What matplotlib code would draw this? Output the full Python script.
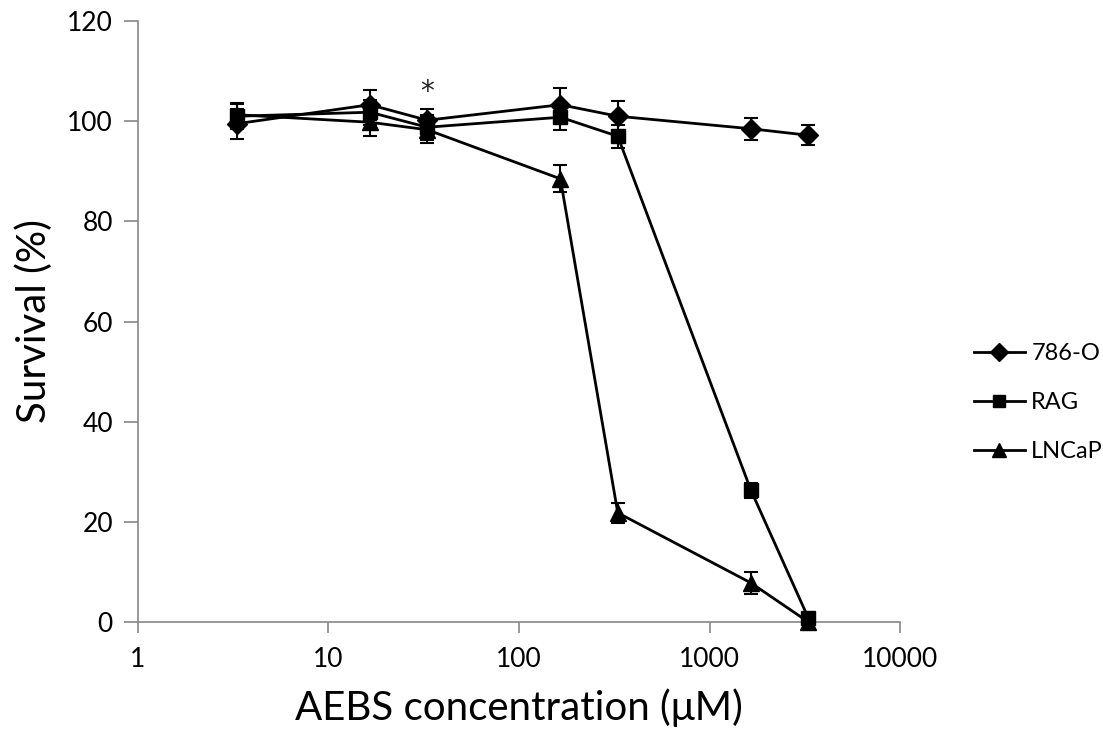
import numpy as np
import matplotlib.pyplot as plt
from matplotlib.lines import Line2D

plt.rcParams['font.family'] = ['Lato', 'DejaVu Sans']

conc = [3.3, 16.5, 33, 165, 330, 1650, 3300]

o786 = [99.5, 103.3, 100.2, 103.3, 101.0, 98.5, 97.2]
o786_err = [3.0, 3.0, 2.2, 3.3, 3.0, 2.2, 2.0]

rag = [101.0, 101.8, 98.8, 100.8, 97.0, 26.3, 0.8]
rag_err = [2.5, 2.5, 2.5, 2.5, 2.3, 1.5, 0.5]

lncap = [101.3, 99.8, 98.3, 88.5, 21.8, 7.8, 0.0]
lncap_err = [2.3, 2.8, 2.6, 2.7, 2.0, 2.2, 0.5]

series = [("786-O", o786, o786_err, "D", 10.5),
          ("RAG", rag, rag_err, "s", 9.5),
          ("LNCaP", lncap, lncap_err, "^", 11.5)]

fig = plt.figure(figsize=(11.03, 7.4), dpi=100)
ax = fig.add_axes([0.125, 0.1595, 0.691, 0.812])

handles = []
for name, vals, err, mk, ms in series:
    ax.errorbar(conc, vals, yerr=err, color='black', marker=mk, markersize=ms,
                linewidth=2.0, elinewidth=1.5, capsize=5, capthick=1.5,
                clip_on=False, zorder=3)
    handles.append(Line2D([], [], color='black', marker=mk, markersize=ms * 0.9,
                          linewidth=2.0, label=name))

# significance mark
ax.text(33, 103, "*", ha='center', va='bottom', fontsize=20, color='#222222',
        family='DejaVu Sans')

ax.set_xscale('log')
ax.set_xlim(1, 10000)
ax.set_ylim(0, 120)
ax.set_yticks(range(0, 121, 20))
ax.set_xticks([1, 10, 100, 1000, 10000])
ax.set_xticklabels(['1', '10', '100', '1000', '10000'])
ax.xaxis.set_minor_locator(plt.NullLocator())

for s in ['top', 'right']:
    ax.spines[s].set_visible(False)
for s in ['left', 'bottom']:
    ax.spines[s].set_color('#888888')
    ax.spines[s].set_linewidth(1.2)
ax.tick_params(axis='both', colors='#888888', labelcolor='black', labelsize=19, width=1.2)
ax.tick_params(axis='y', length=10, pad=8)
ax.tick_params(axis='x', length=8, pad=10)

ax.set_xlabel("AEBS concentration (μM)", fontsize=29, labelpad=12)
ax.set_ylabel("Survival (%)", fontsize=29, labelpad=10)

ax.legend(handles=handles, loc='center left', bbox_to_anchor=(1.084, 0.365), frameon=False,
          fontsize=17, handlelength=2.2, labelspacing=1.2,
          handletextpad=0.25, borderaxespad=0)

fig.savefig('out.png', dpi=100)
